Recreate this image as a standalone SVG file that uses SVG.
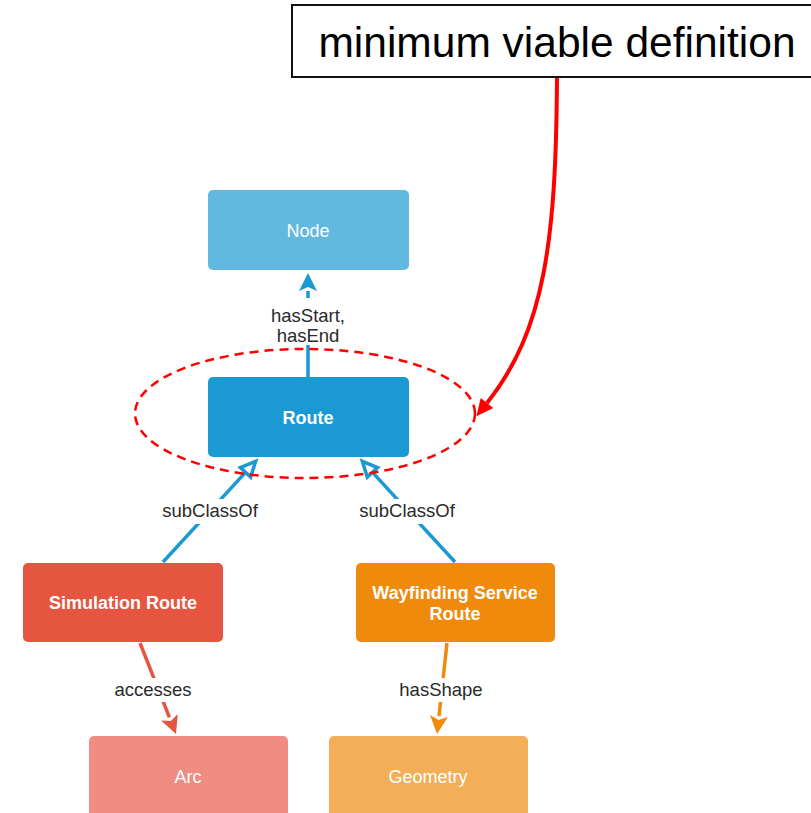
<svg xmlns="http://www.w3.org/2000/svg" width="811" height="813" viewBox="0 0 811 813">
<style>
.node text{font-family:"Liberation Sans",Arial,sans-serif;font-size:18px;fill:#fff;text-anchor:middle}
.b{font-weight:bold}
.lbl{font-family:"Liberation Sans",Arial,sans-serif;font-size:18.5px;fill:#2a2a2a;text-anchor:middle}
.bg{fill:#fff}
</style>
<defs>
<marker id="hollow" markerUnits="userSpaceOnUse" markerWidth="18" markerHeight="16" refX="0" refY="7" orient="auto" overflow="visible"><path d="M0,0 L15,7 L0,14 z" fill="#fff" stroke="#1a99d3" stroke-width="3.5" stroke-linejoin="miter"/></marker>
<marker id="fblue" markerUnits="userSpaceOnUse" markerWidth="20" markerHeight="20" refX="0" refY="9" orient="auto" overflow="visible"><path d="M0,0 L18,9 L0,18 L4,9 z" fill="#1a99d3"/></marker>
<marker id="fred" markerUnits="userSpaceOnUse" markerWidth="20" markerHeight="20" refX="0" refY="9" orient="auto" overflow="visible"><path d="M0,0 L18,9 L0,18 L4,9 z" fill="#e5553f"/></marker>
<marker id="forange" markerUnits="userSpaceOnUse" markerWidth="20" markerHeight="20" refX="0" refY="9" orient="auto" overflow="visible"><path d="M0,0 L18,9 L0,18 L4,9 z" fill="#ef8a0c"/></marker>
<marker id="fbright" markerUnits="userSpaceOnUse" markerWidth="20" markerHeight="20" refX="0" refY="8" orient="auto" overflow="visible"><path d="M0,0 L17,8 L0,16 z" fill="#ff0000"/></marker>
</defs>
<g id="connectors">
<line x1="308" y1="377" x2="308" y2="291" stroke="#1a99d3" stroke-width="3.5" marker-end="url(#fblue)"/>
<line x1="163" y1="562" x2="245.5" y2="472.4" stroke="#1a99d3" stroke-width="3.5" marker-end="url(#hollow)"/>
<line x1="455" y1="562" x2="372.5" y2="472.4" stroke="#1a99d3" stroke-width="3.5" marker-end="url(#hollow)"/>
<line x1="140" y1="643" x2="169.4" y2="717.3" stroke="#e5553f" stroke-width="3.5" marker-end="url(#fred)"/>
<line x1="447" y1="643" x2="439" y2="716.1" stroke="#ef8a0c" stroke-width="3.5" marker-end="url(#forange)"/>
<rect class="bg" x="266" y="298" width="84" height="47"/>
<text class="lbl" x="308" y="322">hasStart,</text>
<text class="lbl" x="308" y="342">hasEnd</text>
<rect class="bg" x="156" y="499" width="108" height="25"/>
<text class="lbl" x="210" y="517">subClassOf</text>
<rect class="bg" x="353" y="499" width="108" height="25"/>
<text class="lbl" x="407" y="517">subClassOf</text>
<rect class="bg" x="112" y="678" width="82" height="24"/>
<text class="lbl" x="153" y="696">accesses</text>
<rect class="bg" x="397" y="678" width="88" height="24"/>
<text class="lbl" x="441" y="696">hasShape</text>
</g>
<g id="node-node" class="node"><rect x="208" y="190" width="201" height="80" rx="5" fill="#63b8e0"/><text x="308" y="237">Node</text></g>
<g id="node-route" class="node"><rect x="208" y="377" width="201" height="80" rx="5" fill="#1a99d3"/><text class="b" x="308" y="424">Route</text></g>
<g id="node-simulation" class="node"><rect x="23" y="563" width="200" height="79" rx="5" fill="#e5553f"/><text class="b" x="123" y="609">Simulation Route</text></g>
<g id="node-wayfinding" class="node"><rect x="356" y="563" width="199" height="79" rx="5" fill="#ef8a0c"/><text class="b" x="455" y="599">Wayfinding Service</text><text class="b" x="455" y="620">Route</text></g>
<g id="node-arc" class="node"><rect x="89" y="736" width="199" height="85" rx="5" fill="#ef8d82"/><text x="188" y="783">Arc</text></g>
<g id="node-geometry" class="node"><rect x="329" y="736" width="199" height="85" rx="5" fill="#f3ae58"/><text x="428" y="783">Geometry</text></g>
<g id="highlight">
<ellipse cx="305" cy="413.5" rx="170" ry="64.5" fill="none" stroke="#ff0000" stroke-width="2.5" stroke-dasharray="9,6"/>
</g>
<g id="callout">
<rect x="292" y="5" width="530" height="72" fill="#fff" stroke="#111" stroke-width="2"/>
<text x="557" y="57" font-family="'Liberation Sans',Arial,sans-serif" font-size="42.5" fill="#000" text-anchor="middle">minimum viable definition</text>
<path d="M557,78 C556,240 545,330 487,403" fill="none" stroke="#ff0000" stroke-width="4" marker-end="url(#fbright)"/>
</g>
</svg>
